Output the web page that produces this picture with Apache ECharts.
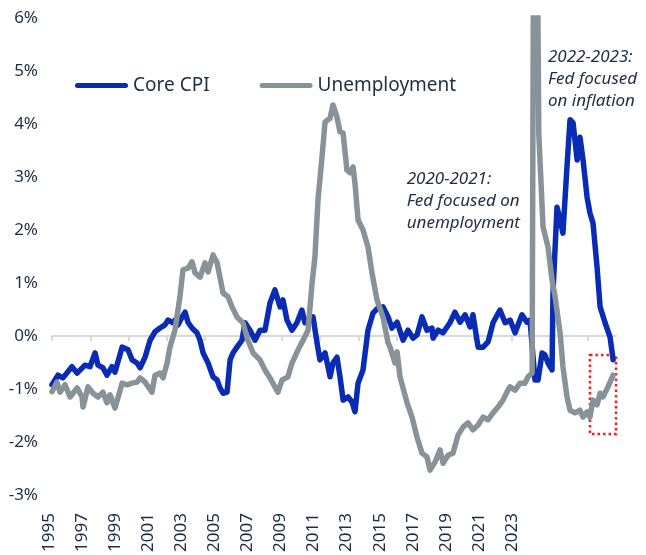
<!DOCTYPE html>
<html>
<head>
<meta charset="utf-8">
<script src="https://cdn.jsdelivr.net/npm/echarts@6/dist/echarts.min.js"></script>
<style>
  html, body { margin: 0; padding: 0; background: #fff; }
  #chart { width: 646px; height: 555px; }
</style>
</head>
<body>
<div id="chart"></div>
<script>
// decimal years
const cpiYears = [
  1995.00, 1995.31, 1995.57, 1996.04, 1996.31, 1996.72, 1996.98, 1997.25, 1997.40, 1997.66,
  1997.87, 1998.13, 1998.29, 1998.66, 1998.97, 1999.18, 1999.44, 1999.60, 1999.86, 2000.12,
  2000.38, 2000.64, 2000.90, 2001.06, 2001.32, 2001.42, 2001.58, 2001.79, 2001.95, 2002.10,
  2002.31, 2002.57, 2002.73, 2002.89, 2003.15, 2003.41, 2003.62, 2003.77, 2003.93, 2004.14,
  2004.30, 2004.45, 2004.66, 2004.92, 2005.08, 2005.34, 2005.60, 2005.86, 2006.12, 2006.38,
  2006.64, 2006.91, 2007.06, 2007.27, 2007.53, 2007.79, 2008.05, 2008.21, 2008.37, 2008.63,
  2008.84, 2008.99, 2009.26, 2009.52, 2009.67, 2009.88, 2010.04, 2010.20, 2010.46, 2010.67,
  2010.82, 2010.98, 2011.24, 2011.50, 2011.76, 2012.02, 2012.28, 2012.55, 2012.75, 2013.02,
  2013.33, 2013.59, 2013.85, 2014.06, 2014.32, 2014.58, 2014.84, 2014.90, 2015.16, 2015.42,
  2015.78, 2016.04, 2016.31, 2016.57, 2016.83, 2016.98, 2017.25, 2017.51, 2017.77, 2018.03,
  2018.39, 2018.66, 2018.92, 2019.18, 2019.54, 2019.80, 2019.96, 2020.12, 2020.22, 2020.38,
  2020.59, 2020.74, 2020.90, 2021.11, 2021.16, 2021.37, 2021.53, 2021.68, 2021.89, 2022.05,
  2022.21, 2022.42, 2022.57, 2022.73, 2022.94, 2023.09, 2023.25, 2023.46, 2023.62, 2023.88,
  2024.14, 2024.30
];
const cpiValues = [
  -0.92, -0.74, -0.79, -0.58, -0.70, -0.55, -0.58, -0.32, -0.55, -0.60,
  -0.74, -0.58, -0.68, -0.21, -0.26, -0.45, -0.51, -0.60, -0.40, -0.08,
  0.08, 0.15, 0.21, 0.30, 0.25, 0.30, 0.21, 0.36, 0.45, 0.26,
  0.15, 0.06, -0.08, -0.32, -0.51, -0.77, -0.83, -0.98, -1.08, -1.06,
  -0.45, -0.32, -0.21, -0.08, 0.25, 0.11, -0.08, 0.11, 0.11, 0.62,
  0.87, 0.55, 0.68, 0.30, 0.11, 0.25, 0.49, 0.25, 0.30, 0.36,
  -0.13, -0.45, -0.32, -0.77, -0.51, -0.40, -0.77, -1.21, -1.15, -1.25,
  -1.43, -0.89, -0.64, 0.11, 0.43, 0.53, 0.55, 0.36, 0.15, 0.26,
  -0.08, 0.11, -0.04, 0.02, 0.36, 0.11, 0.15, -0.04, 0.11, 0.06,
  0.25, 0.45, 0.26, 0.40, 0.17, 0.40, -0.21, -0.21, -0.11, 0.25,
  0.49, 0.25, 0.30, 0.06, 0.40, 0.26, 0.30, -0.40, -0.83, -0.83,
  -0.32, -0.36, -0.51, -0.64, 0.81, 2.43, 2.19, 1.94, 3.19, 4.08,
  4.02, 3.32, 3.75, 3.32, 2.62, 2.32, 2.13, 1.30, 0.55, 0.25,
  -0.02, -0.45
];

const unempYears = [
  1995.00, 1995.26, 1995.42, 1995.68, 1995.94, 1996.31, 1996.57, 1996.62, 1996.88, 1997.14,
  1997.40, 1997.66, 1997.87, 1998.03, 1998.29, 1998.66, 1998.92, 1999.18, 1999.44, 1999.60,
  1999.86, 2000.22, 2000.38, 2000.64, 2000.80, 2001.01, 2001.16, 2001.42, 2001.68, 2001.84,
  2002.10, 2002.31, 2002.47, 2002.73, 2002.99, 2003.15, 2003.41, 2003.62, 2003.77, 2003.93,
  2004.19, 2004.40, 2004.66, 2004.97, 2005.23, 2005.50, 2005.86, 2006.12, 2006.38, 2006.64,
  2006.80, 2007.01, 2007.32, 2007.53, 2007.85, 2008.11, 2008.37, 2008.58, 2008.73, 2008.89,
  2009.10, 2009.26, 2009.52, 2009.67, 2009.88, 2010.04, 2010.20, 2010.40, 2010.56, 2010.72,
  2010.82, 2010.98, 2011.24, 2011.50, 2011.71, 2011.97, 2012.28, 2012.55, 2012.65, 2012.91,
  2013.02, 2013.17, 2013.54, 2013.80, 2014.06, 2014.32, 2014.58, 2014.74, 2015.00, 2015.26,
  2015.42, 2015.68, 2015.94, 2016.20, 2016.46, 2016.72, 2016.98, 2017.25, 2017.51, 2017.77,
  2018.03, 2018.29, 2018.55, 2018.81, 2018.92, 2019.18, 2019.44, 2019.70, 2019.86, 2020.07,
  2020.17, 2020.33, 2020.42, 2020.64, 2020.90, 2021.11, 2021.27, 2021.53, 2021.68, 2021.89,
  2022.05, 2022.31, 2022.57, 2022.73, 2022.94, 2023.09, 2023.25, 2023.46, 2023.62, 2023.77,
  2024.03, 2024.30
];
const unempValues = [
  -1.05, -0.87, -1.06, -0.92, -1.15, -0.98, -1.15, -1.34, -0.96, -1.08,
  -1.15, -1.06, -1.26, -1.11, -1.36, -0.89, -0.92, -0.89, -0.87, -0.79,
  -0.87, -1.06, -0.74, -0.70, -0.79, -0.51, -0.21, 0.11, 0.74, 1.25,
  1.28, 1.40, 1.19, 1.11, 1.38, 1.21, 1.53, 1.38, 1.11, 0.81,
  0.74, 0.55, 0.36, 0.25, -0.08, -0.32, -0.45, -0.64, -0.79, -0.96,
  -1.06, -0.83, -0.77, -0.51, -0.26, -0.08, 0.11, 1.00, 1.49, 2.57,
  3.38, 4.04, 4.11, 4.36, 4.13, 3.85, 3.83, 3.13, 3.08, 3.19,
  2.89, 2.19, 2.00, 1.68, 1.19, 0.68, 0.36, -0.13, -0.21, -0.51,
  -0.30, -0.77, -1.26, -1.53, -1.91, -2.21, -2.28, -2.53, -2.38, -2.15,
  -2.40, -2.25, -2.21, -1.87, -1.72, -1.64, -1.77, -1.68, -1.53, -1.58,
  -1.45, -1.34, -1.21, -1.02, -0.96, -1.02, -0.89, -0.89, -0.77, -0.70,
  10.5, 8.0, 3.8, 2.06, 1.68, 1.06, 0.74, 0.06, -0.58, -1.15,
  -1.40, -1.45, -1.40, -1.53, -1.43, -1.53, -1.21, -1.30, -1.08, -1.15,
  -0.96, -0.74
];

const tickYears = [1995, 1997, 1999, 2001, 2003, 2005, 2007, 2009, 2011, 2013, 2015, 2017, 2019, 2021, 2023];
const yearLabels = ['1995', '1997', '1999', '2001', '2003', '2005', '2007', '2009', '2011', '2013', '2015', '2017', '2019', '2021', '2023'];

// highlighted recent period (red dotted box)
const boxYears = [2023.09, 2024.45];
const boxValues = [-0.36, -1.85];

const textColor = '#1c2f44';
const fontFamily = '"Noto Sans", sans-serif';
const cpiColor = '#0a2cb4';
const unempColor = '#879398';

const pairs = (xs, ys) => xs.map((x, i) => [x, ys[i]]);

const chart = echarts.init(document.getElementById('chart'));
chart.setOption({
  animation: false,
  textStyle: { fontFamily },
  grid: [
    { left: 52, right: 30, top: 18, bottom: 60, containLabel: false, outerBoundsMode: 'none' },
    { left: 49, right: 134, top: 500, bottom: 3, containLabel: false, outerBoundsMode: 'none' }
  ],
  legend: {
    left: 70,
    top: 71,
    itemWidth: 53,
    itemHeight: 5,
    itemGap: 50,
    icon: 'path://M2.5,0 L50.5,0 A2.5,2.5 0 0 1 50.5,5 L2.5,5 A2.5,2.5 0 0 1 2.5,0 Z',
    selectedMode: false,
    textStyle: { color: textColor, fontSize: 19, fontFamily },
    data: ['Core CPI', 'Unemployment']
  },
  xAxis: [
    {
      type: 'value',
      gridIndex: 0,
      min: 1995,
      max: 2024.45,
      interval: 2,
      splitLine: { show: false },
      axisLine: { onZero: true, lineStyle: { color: '#d9d9d9', width: 2 } },
      axisTick: { show: true, length: 5, customValues: tickYears, lineStyle: { color: '#d9d9d9', width: 2 } },
      axisLabel: { show: false }
    },
    {
      type: 'category',
      gridIndex: 1,
      data: yearLabels,
      boundaryGap: false,
      axisLine: { show: false },
      axisTick: { show: false },
      axisLabel: {
        interval: 0,
        rotate: 90,
        align: 'left',
        verticalAlign: 'middle',
        margin: 0,
        fontSize: 17,
        color: textColor,
        fontFamily
      }
    }
  ],
  yAxis: [
    {
      type: 'value',
      gridIndex: 0,
      min: -3,
      max: 6,
      interval: 1,
      splitLine: { show: false },
      axisLine: { show: false },
      axisTick: { show: false },
      axisLabel: { formatter: '{value}%', fontSize: 17, color: textColor, margin: 14, fontFamily }
    },
    { type: 'value', gridIndex: 1, show: false }
  ],
  series: [
    {
      name: 'Core CPI',
      type: 'line',
      color: cpiColor,
      showSymbol: false,
      symbol: 'none',
      data: pairs(cpiYears, cpiValues),
      lineStyle: { color: cpiColor, width: 5.5, cap: 'round', join: 'round' }
    },
    {
      name: 'Unemployment',
      type: 'line',
      color: unempColor,
      showSymbol: false,
      symbol: 'none',
      data: pairs(unempYears, unempValues),
      lineStyle: { color: unempColor, width: 5.5, cap: 'round', join: 'round' },
      markArea: {
        silent: true,
        itemStyle: { color: 'rgba(0,0,0,0)', borderColor: '#ff1a1a', borderWidth: 2.5, borderType: [2.5, 3] },
        data: [[
          { xAxis: boxYears[0], yAxis: boxValues[0] },
          { xAxis: boxYears[1], yAxis: boxValues[1] }
        ]]
      }
    }
  ],
  graphic: [
    {
      type: 'text',
      left: 548,
      top: 46,
      style: {
        text: '2022-2023:\nFed focused\non inflation',
        font: 'italic 17px "Noto Sans"',
        fill: textColor,
        lineHeight: 22
      }
    },
    {
      type: 'text',
      right: 126,
      top: 168,
      style: {
        text: '2020-2021:\nFed focused on\nunemployment',
        font: 'italic 17px "Noto Sans"',
        fill: textColor,
        align: 'right',
        lineHeight: 22
      }
    }
  ]
});
</script>
</body>
</html>
